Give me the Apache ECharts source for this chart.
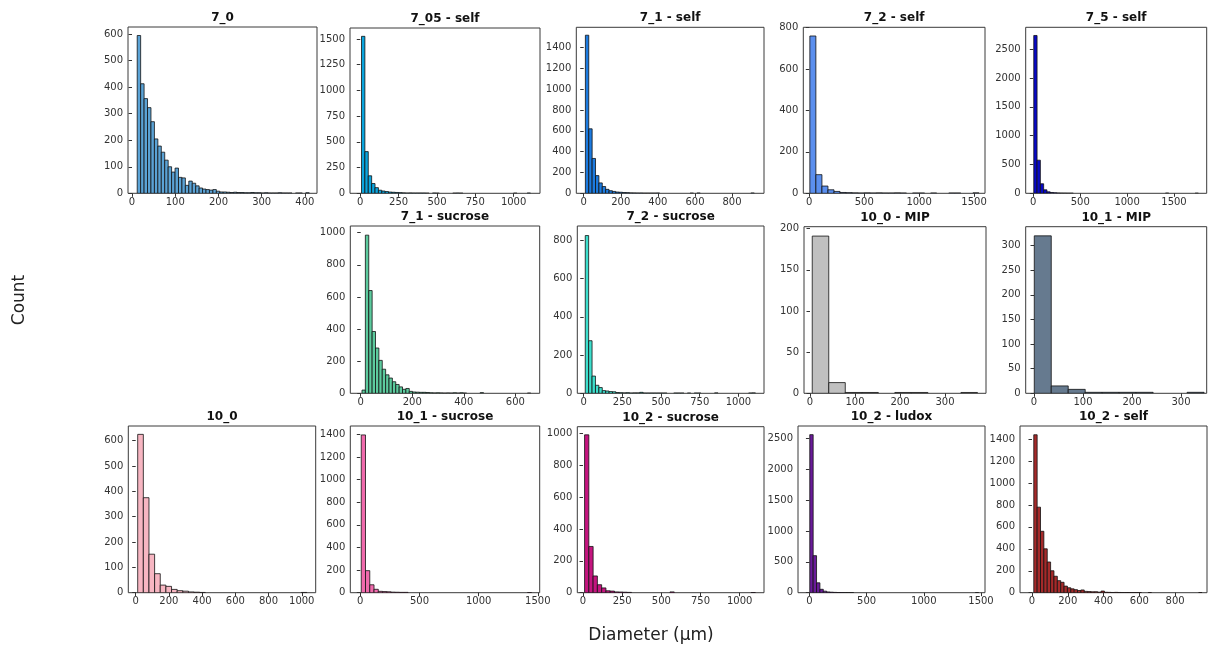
<!DOCTYPE html>
<html>
<head>
<meta charset="utf-8">
<script src="https://cdn.jsdelivr.net/npm/echarts@6/dist/echarts.min.js"></script>
<style>
html,body{margin:0;padding:0;background:#fff;}
#chart{width:1212px;height:651px;}
</style>
</head>
<body>
<div id="chart"></div>
<script>
// ---------- DATA ----------
const titles = ['7_0','7_05 - self','7_1 - self','7_2 - self','7_5 - self',
  '7_1 - sucrose','7_2 - sucrose','10_0 - MIP','10_1 - MIP',
  '10_0','10_1 - sucrose','10_2 - sucrose','10_2 - ludox','10_2 - self'];

// histogram counts per panel
const counts_7_0 = [595,413,357,323,270,205,178,155,125,100, 80,95,60,58,30,46,38,28,20,16, 14,12,14,8,5,5,4,3,4,3, 3,2,2,3,2,2,1,2,1,1, 1,2,1,1,1,0,1,1,0,2];
const counts_7_05_self = [1525,405,170,95,55,30,22,17,12,10, 8,6,4,2,3,2,2,2,2,1, 0,2,1,0,0,0,0,1,2,1, 0,0,0,0,0,0,0,0,0,0, 0,0,0,0,0,1,0,0,0,2];
const counts_7_1_self = [1520,620,335,170,100,65,38,25,18,12, 10,7,6,4,3,2,2,1,1,1, 1,2,0,0,0,0,0,0,0,0, 0,1,0,2,0,0,0,0,0,0, 0,0,0,0,0,0,0,0,0,2];
const counts_7_2_self = [760,90,35,17,9,4,3,2,1,2, 1,2,1,1,2,1,0,1,1,0, 1,0,0,1,1,0,0,2];
const counts_7_5_self = [2740,575,165,60,25,14,9,5,3,2, 1,1,0,0,0,0,0,0,0,0, 0,0,0,0,0,0,0,0,0,0, 0,0,0,0,0,0,0,0,0,0, 3,0,0,0,0,0,0,0,0,1];
const counts_7_1_sucrose = [20,985,640,385,282,205,150,115,95,72, 55,40,25,30,12,8,7,6,6,5, 3,2,3,2,1,2,1,3,1,3, 1,0,0,0,0,4,0,0,0,0, 0,0,0,0,0,0,0,0,0,1];
const counts_7_2_sucrose = [825,275,90,42,30,14,12,9,8,4, 3,2,3,1,2,2,5,1,1,1, 1,1,1,1,0,0,1,1,1,0, 1,0,1,1,0,0,0,0,2,0, 0,0,0,0,0,0,0,0,1,2];
const counts_10_0_MIP = [191,13,1,1,0,1,1,0,0,1];
const counts_10_1_MIP = [320,15,8,2,2,2,2,0,0,2];
const counts_10_0 = [625,375,152,75,30,25,13,8,6,3, 2,1,0,0,0,0,0,0,0,0, 0,0,0,0,0,0,0,0,0,1];
const counts_10_1_sucrose = [1395,195,70,30,12,10,8,5,4,3, 3,0,0,0,0,0,0,0,0,0, 0,0,0,0,0,0,0,0,0,0, 0,0,0,0,0,0,0,0,0,1];
const counts_10_2_sucrose = [990,290,105,50,30,12,10,5,4,3, 2,0,0,0,0,0,0,0,0,0, 5,0,0,0,0,0,0,0,0,0, 0,0,0,0,0,0,0,0,0,1];
const counts_10_2_ludox = [2560,600,160,55,25,12,8,5,3,2, 1,1,1,0,0,0,0,0,0,0, 0,0,0,0,0,0,0,0,0,0, 0,0,0,0,0,0,0,0,0,0, 0,0,0,0,0,0,0,0,0,1];
const counts_10_2_self = [1440,780,560,400,280,200,150,110,95,60, 45,35,28,20,25,12,10,8,9,5, 15,4,3,2,3,2,1,1,1,1, 1,1,0,0,1,0,0,0,0,0, 0,0,0,0,0,0,0,0,0,1];

// data range covered by the bins (diameter, µm)
const binRanges = [[12,410],[8,1110],[9,920],[5,1545],[5,1760],[5,660],[10,1110],[5,372],[0.5,347],[12,1031],[8,1448],[10,1100],[3,1480],[10,950]];

// tick labels
const xTicks = [[0,100,200,300,400],[0,250,500,750,1000],[0,200,400,600,800],[0,500,1000,1500],[0,500,1000,1500],
  [0,200,400,600],[0,250,500,750,1000],[0,100,200,300],[0,100,200,300],
  [0,200,400,600,800,1000],[0,500,1000,1500],[0,250,500,750,1000],[0,500,1000,1500],[0,200,400,600,800]];
const yTicks = [[0,100,200,300,400,500,600],[0,250,500,750,1000,1250,1500],[0,200,400,600,800,1000,1200,1400],[0,200,400,600,800],[0,500,1000,1500,2000,2500],
  [0,200,400,600,800,1000],[0,200,400,600,800],[0,50,100,150,200],[0,50,100,150,200,250,300],
  [0,100,200,300,400,500,600],[0,200,400,600,800,1000,1200,1400],[0,200,400,600,800,1000],[0,500,1000,1500,2000,2500],[0,200,400,600,800,1000,1200,1400]];

const allCounts = [counts_7_0,counts_7_05_self,counts_7_1_self,counts_7_2_self,counts_7_5_self,
  counts_7_1_sucrose,counts_7_2_sucrose,counts_10_0_MIP,counts_10_1_MIP,
  counts_10_0,counts_10_1_sucrose,counts_10_2_sucrose,counts_10_2_ludox,counts_10_2_self];

// ---------- LAYOUT / STYLE ----------
const layout = [
  {box:[128,27,317,193.3], xlim:[-9.3,428], ymax:627},
  {box:[350,28,540,193.3], xlim:[-67,1172], ymax:1606},
  {box:[576.3,27.3,764,193.3], xlim:[-40,972.5], ymax:1596},
  {box:[803.3,27.3,985,193.3], xlim:[-54.6,1600], ymax:802},
  {box:[1025.7,27.3,1206.7,193.3], xlim:[-81,1848.6], ymax:2882},
  {box:[350.3,226,539.7,393.3], xlim:[-40.4,694.6], ymax:1042},
  {box:[577.3,226,764,393.3], xlim:[-41.4,1165.5], ymax:875},
  {box:[804,226.7,986,393.3], xlim:[-13.3,391], ymax:202.4},
  {box:[1025.7,226.7,1206.7,393.3], xlim:[-17,352.4], ymax:338.6},
  {box:[128.3,426,315.7,592.7], xlim:[-44.6,1084], ymax:658},
  {box:[350.3,426,539.7,592.7], xlim:[-84.5,1516], ymax:1474},
  {box:[577.3,426.7,764,592.7], xlim:[-36.4,1155], ymax:1041},
  {box:[798,426,985,592.7], xlim:[-100,1535], ymax:2700},
  {box:[1020,426,1207,592.7], xlim:[-67,978], ymax:1520}
];
const colors = ['#5BA3D6','#0AA5DE','#1C7BE0','#5B8FEE','#0808C8',
  '#5CCB9E','#3DDFCD','#C0C0C0','#667A8F',
  '#F7B6C2','#F06AAC','#C4157F','#6A1B9A','#A52A2A'];

const FONT = 'DejaVu Sans';
const fmt = v => String(v);
const grids = [], xAxes = [], yAxes = [], series = [], tls = [];

titles.forEach((t, i) => {
  const L = layout[i];
  const [l, tp, r, b] = L.box;
  grids.push({left:l, top:tp, width:r-l, height:b-tp, show:true, borderColor:'#3a3a3a', borderWidth:1, backgroundColor:'transparent', containLabel:false});
  xAxes.push({type:'value', gridIndex:i, min:L.xlim[0], max:L.xlim[1],
    axisLine:{show:false}, splitLine:{show:false},
    axisTick:{show:true, length:3.5, lineStyle:{color:'#333'}, customValues:xTicks[i]},
    axisLabel:{fontFamily:FONT, fontSize:10, color:'#333', margin:4, formatter:fmt, customValues:xTicks[i]}});
  yAxes.push({type:'value', gridIndex:i, min:0, max:L.ymax,
    axisLine:{show:false}, splitLine:{show:false},
    axisTick:{show:true, length:3.5, lineStyle:{color:'#333'}, customValues:yTicks[i]},
    axisLabel:{fontFamily:FONT, fontSize:10, color:'#333', margin:5, formatter:fmt, customValues:yTicks[i]}});
  const cts = allCounts[i];
  const [lo, hi] = binRanges[i];
  const w = (hi - lo) / cts.length;
  const data = cts.map((c, k) => [lo + k * w, lo + (k + 1) * w, c]);
  const col = colors[i];
  series.push({type:'custom', xAxisIndex:i, yAxisIndex:i, clip:true,
    encode:{x:[0,1], y:2},
    data: data,
    renderItem: function(params, api){
      const c = api.value(2);
      if (!c) return null;
      const p0 = api.coord([api.value(0), 0]);
      const p1 = api.coord([api.value(1), c]);
      return {type:'rect', shape:{x:p0[0], y:p1[1], width:p1[0]-p0[0], height:p0[1]-p1[1]},
        style:{fill:col, stroke:'#111', lineWidth:0.8}};
    }});
  tls.push({text:t, left:(l+r)/2, top:tp-15, padding:0, textAlign:'center',
    textStyle:{fontFamily:FONT, fontSize:12, fontWeight:'bold', color:'#111'}});
});

const chart = echarts.init(document.getElementById('chart'), null, {renderer:'canvas'});
chart.setOption({
  animation:false,
  backgroundColor:'#fff',
  title: tls,
  grid: grids,
  xAxis: xAxes,
  yAxis: yAxes,
  series: series,
  graphic: [
    {type:'text', x:20, y:300, rotation:Math.PI/2, style:{text:'Count', fontFamily:FONT, fontSize:17, fill:'#222', align:'center', verticalAlign:'middle'}},
    {type:'text', x:651, y:636, style:{text:'Diameter (µm)', fontFamily:FONT, fontSize:17, fill:'#222', align:'center', verticalAlign:'middle'}}
  ]
});
</script>
</body>
</html>
